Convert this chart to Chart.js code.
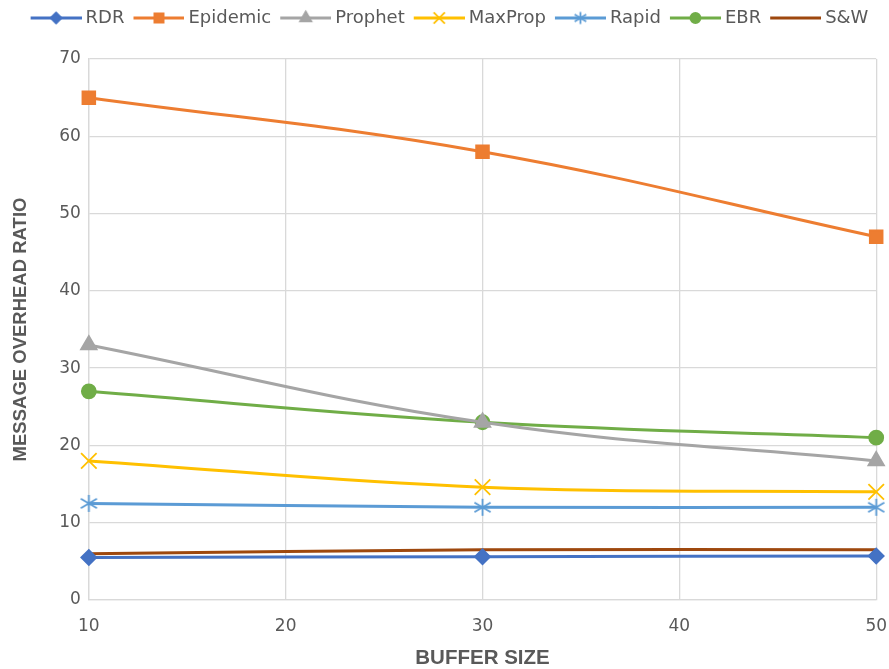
<!DOCTYPE html>
<html>
<head>
<meta charset="utf-8">
<style>
  html, body { margin: 0; padding: 0; background: #ffffff; }
  #wrap { width: 889px; height: 669px; }
</style>
<script src="https://cdn.jsdelivr.net/npm/chart.js@4.4.1/dist/chart.umd.min.js"></script>
</head>
<body>
<div id="wrap"><canvas id="chart" width="889" height="669"></canvas></div>
<script>
// Buffer sizes sampled
const bufferSizes = [10, 30, 50];
const tickValues = [0, 10, 20, 30, 40, 50, 60, 70];

// Message overhead ratio per routing protocol
const rdr      = [5.5, 5.6, 5.7];
const epidemic = [65, 58, 47];
const prophet  = [33, 23, 18];
const maxprop  = [18, 14.6, 14];
const rapid    = [12.5, 12, 12];
const ebr      = [27, 23, 21];
const sw       = [6, 6.5, 6.5];

const FONT = "'DejaVu Sans', 'Open Sans', sans-serif";
const TITLE_FONT = "'Liberation Sans', Arial, sans-serif";
const TEXT = '#595959';
const GRID = '#d9d9d9';

// Asterisk marker: an X with a vertical stroke through it
function asterisk(color, r) {
  const size = Math.ceil(r * 2 + 4);
  const c = document.createElement('canvas');
  c.width = size; c.height = size;
  const ctx = c.getContext('2d');
  const m = size / 2;
  ctx.strokeStyle = color;
  ctx.lineWidth = 1.8;
  ctx.beginPath();
  const d = r * 0.95;
  ctx.moveTo(m - d, m - d * 0.6); ctx.lineTo(m + d, m + d * 0.6);
  ctx.moveTo(m - d, m + d * 0.6); ctx.lineTo(m + d, m - d * 0.6);
  ctx.moveTo(m, m - r); ctx.lineTo(m, m + r);
  ctx.stroke();
  return c;
}

const series = [
  { label: 'RDR',      data: rdr,      color: '#4472C4', style: 'rectRot',  radius: 7.5 },
  { label: 'Epidemic', data: epidemic, color: '#ED7D31', style: 'rect',     radius: 9 },
  { label: 'Prophet',  data: prophet,  color: '#A5A5A5', style: 'triangle', radius: 9 },
  { label: 'MaxProp',  data: maxprop,  color: '#FFC000', style: 'crossRot', radius: 11 },
  { label: 'Rapid',    data: rapid,    color: '#5B9BD5', style: 'asterisk', radius: 8.5 },
  { label: 'EBR',      data: ebr,      color: '#70AD47', style: 'circle',   radius: 7 },
  { label: 'S&W',      data: sw,       color: '#9E480E', style: false,      radius: 0 }
];

function markerAt(ctx, s, x, y, scale) {
  if (!s.style) return;
  if (s.style === 'asterisk') {
    const img = asterisk(s.color, s.radius * scale);
    ctx.drawImage(img, x - img.width / 2, y - img.height / 2);
    return;
  }
  ctx.fillStyle = s.color;
  ctx.strokeStyle = s.color;
  ctx.lineWidth = 1.8;
  Chart.helpers.drawPoint(ctx, {
    pointStyle: s.style,
    radius: s.radius * scale,
    rotation: 0,
    borderWidth: 1.8
  }, x, y);
}

// Legend swatch: a short line with the series marker; the line sits
// toward the right of the image so it hugs the label text
const SWATCH_W = 56, LINE_START = 5;
function legendSwatch(s) {
  const c = document.createElement('canvas');
  c.width = SWATCH_W; c.height = 18;
  const ctx = c.getContext('2d');
  ctx.strokeStyle = s.color;
  ctx.lineWidth = 3;
  ctx.beginPath();
  ctx.moveTo(LINE_START, 9); ctx.lineTo(SWATCH_W, 9);
  ctx.stroke();
  markerAt(ctx, s, (LINE_START + SWATCH_W) / 2, 9, 0.72);
  return c;
}

const datasets = series.map(s => ({
  label: s.label,
  data: bufferSizes.map((x, i) => ({ x: x, y: s.data[i] })),
  borderColor: s.color,
  backgroundColor: s.color,
  borderWidth: 3,
  tension: 0.4,
  clip: false,
  pointStyle: s.style === 'asterisk' ? asterisk(s.color, s.radius) : (s.style || 'circle'),
  pointRadius: s.radius,
  pointHoverRadius: s.radius,
  pointBorderWidth: 1.8,
  pointBorderColor: s.color,
  pointBackgroundColor: s.color,
  swatch: legendSwatch(s)
}));

// Extra room between the legend row and the plot
const LEGEND_GAP = 22;
const legendGap = {
  id: 'legendGap',
  beforeUpdate(chart) {
    const lg = chart.legend;
    if (lg && !lg._gapPatched) {
      const fit = lg.fit;
      lg.fit = function () { fit.call(this); this.height += LEGEND_GAP; };
      lg._gapPatched = true;
    }
  }
};

new Chart(document.getElementById('chart'), {
  type: 'line',
  data: { datasets: datasets },
  plugins: [legendGap],
  options: {
    responsive: false,
    animation: false,
    layout: { padding: { left: 10, right: 0, top: 0, bottom: -2 } },
    plugins: {
      tooltip: { enabled: false },
      legend: {
        position: 'top',
        labels: {
          usePointStyle: true,
          pointStyleWidth: 46,
          padding: 9,
          color: TEXT,
          font: { family: FONT, size: 18 },
          generateLabels(chart) {
            return chart.data.datasets.map((d, i) => ({
              text: d.label,
              pointStyle: d.swatch,
              fillStyle: d.borderColor,
              strokeStyle: d.borderColor,
              lineWidth: 0,
              fontColor: TEXT,
              hidden: false,
              datasetIndex: i
            }));
          }
        }
      }
    },
    scales: {
      x: {
        type: 'linear',
        min: 10,
        max: 50,
        afterFit(scale) { scale.paddingRight = 7; scale.paddingLeft = 0; },
        ticks: { stepSize: 10, color: TEXT, font: { family: FONT, size: 17 }, padding: 16 },
        grid: { color: GRID, lineWidth: 1.3, drawTicks: false },
        border: { color: GRID, width: 1.3 },
        title: {
          display: true,
          text: 'BUFFER SIZE',
          color: TEXT,
          font: { family: TITLE_FONT, size: 20.5, weight: 'bold' },
          padding: { top: -6, bottom: 0 }
        }
      },
      y: {
        min: 0,
        max: 70,
        afterBuildTicks(axis) { axis.ticks = tickValues.map(v => ({ value: v })); },
        ticks: { color: TEXT, font: { family: FONT, size: 17 }, padding: 8 },
        grid: { color: GRID, lineWidth: 1.3, drawTicks: false },
        border: { color: GRID, width: 1.3 },
        title: {
          display: true,
          text: 'MESSAGE OVERHEAD RATIO',
          color: TEXT,
          font: { family: TITLE_FONT, size: 18.5, weight: 'bold' },
          padding: { top: 0, bottom: 19 }
        }
      }
    }
  }
});
</script>
</body>
</html>
